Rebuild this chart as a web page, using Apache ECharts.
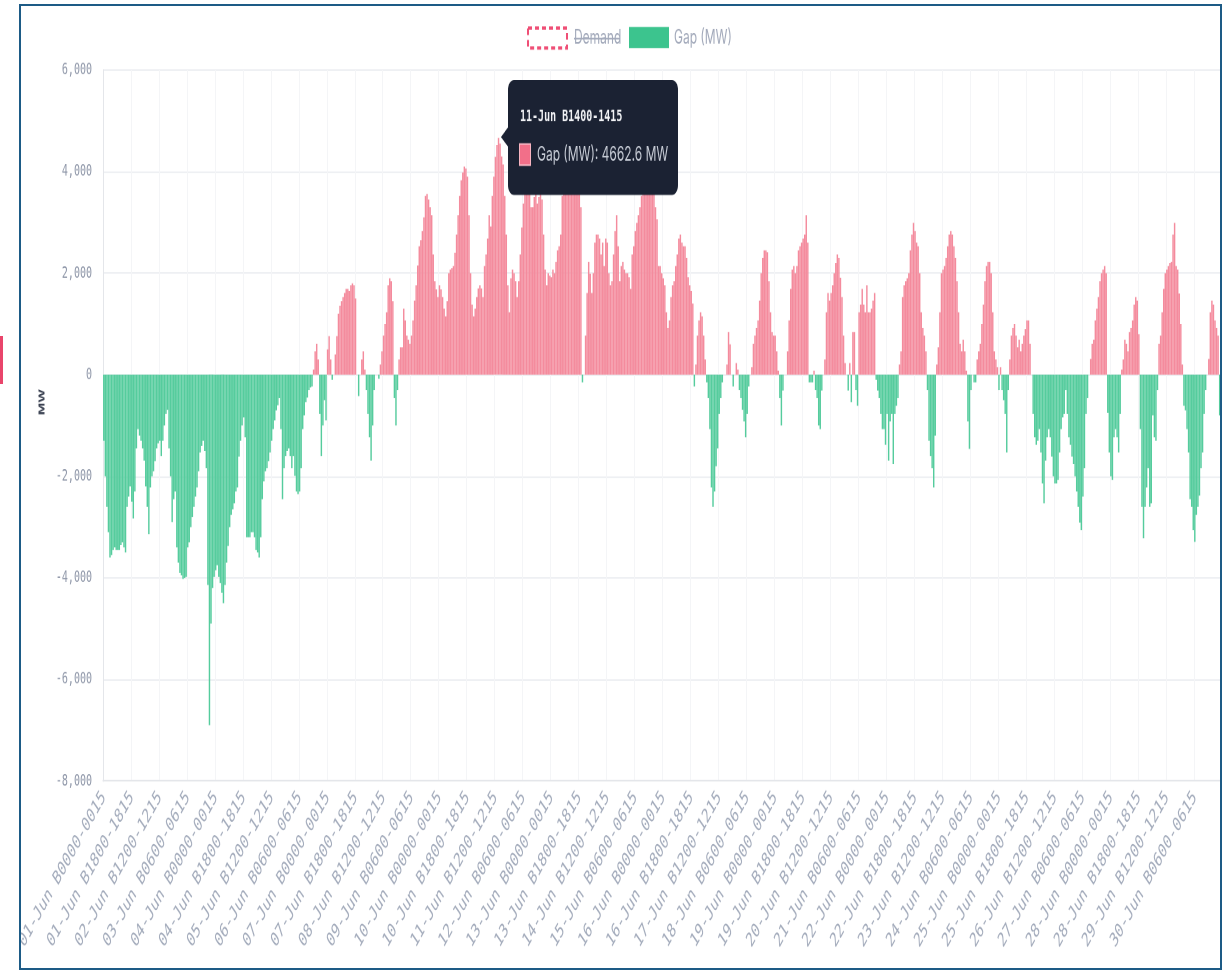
<!DOCTYPE html>
<html>
<head>
<meta charset="utf-8">
<script src="https://cdn.jsdelivr.net/npm/echarts@6/dist/echarts.min.js"></script>
<style>
  html, body { margin: 0; padding: 0; background: #fff; }
  body { width: 1222px; height: 971px; position: relative; overflow: hidden; }
  /* the reference screenshot is stretched vertically, so the chart is drawn short and scaled up */
  #chart { position: absolute; left: 0; top: 0; width: 1222px; height: 589px; transform: scaleY(1.6486); transform-origin: 0 0; }
  #frame { position: absolute; left: 19px; top: 4px; width: 1199px; height: 962px; border: 2px solid #1d5b86; pointer-events: none; }
  #edge { position: absolute; left: 0; top: 336px; width: 3px; height: 48px; background: #e9456b; }
</style>
</head>
<body>
<div id="chart"></div>
<div id="edge"></div>
<div id="frame"></div>
<script>
// hourly gap values (MW), one array per day of June
const jun01 = [-1300,-2000,-2600,-3100,-3600,-3550,-3450,-3400,-3450,-3450,-3450,-3350,-3300,-3400,-3500,-2600,-2400,-2200,-2500,-2830,-2300,-1450,-1070,-1200];
const jun02 = [-1300,-1450,-1690,-2200,-2600,-3140,-2220,-2000,-1900,-1700,-1450,-1350,-1300,-1600,-1300,-1000,-770,-690,-1450,-2000,-2900,-2450,-2300,-3400];
const jun03 = [-3700,-3900,-3950,-4020,-4000,-3980,-3400,-3300,-3000,-2800,-2600,-2400,-2220,-1900,-1530,-1400,-1300,-1500,-1840,-4140,-6900,-4900,-4200,-3980];
const jun04 = [-3850,-3750,-3980,-4100,-4290,-4500,-4140,-3700,-3370,-3000,-2760,-2650,-2530,-2300,-2220,-1610,-1300,-1000,-840,-1230,-3200,-3200,-3200,-3100];
const jun05 = [-3100,-3200,-3450,-3500,-3600,-3200,-2450,-2100,-1900,-1840,-1700,-1530,-1300,-1070,-900,-700,-600,-460,-1070,-2450,-1840,-1600,-1500,-1450];
const jun06 = [-1600,-1840,-1600,-1990,-2300,-2350,-2300,-1840,-1070,-800,-540,-450,-300,-250,-230,100,460,610,300,-770,-1600,-1000,-500,-900];
const jun07 = [500,760,300,-100,0,400,760,1200,1360,1450,1530,1610,1690,1690,1650,1760,1800,1760,1500,0,-420,0,300,460];
const jun08 = [100,-300,-770,-1230,-1690,-1000,-300,0,0,-80,200,460,770,1000,1230,1760,1900,1840,1450,-460,-1000,-300,300,540];
const jun09 = [540,1300,1070,770,690,610,770,1070,1460,1760,2150,2530,2650,2830,3100,3520,3560,3450,3300,3140,2370,1840,1680,1530];
const jun10 = [1760,1680,1530,1300,1150,1450,2000,2070,2100,2140,2400,2760,3140,3520,3830,3980,4100,4060,3900,3140,2000,1380,1150,1300];
const jun11 = [1530,1700,1760,1700,1530,2140,2370,2680,3140,2920,3520,3900,4290,4520,4662.6,4550,4300,4140,3520,2760,1760,1230,1900,2070];
const jun12 = [2000,1840,1530,1840,2370,2900,3370,3680,3800,4000,3900,3300,3300,3500,3600,3370,3500,3600,3450,2760,2070,1760,2000,1950];
const jun13 = [1920,2070,2000,2220,2450,2530,2760,3520,3800,4000,4100,4000,3900,3800,3900,4000,3900,3800,3700,3300,-150,0,770,1610];
const jun14 = [2220,1990,1610,2000,2600,2760,2760,2680,2370,2600,2140,2680,2600,2000,1760,1840,2370,2830,3140,2530,1840,2140,2220,2070];
const jun15 = [2000,2000,1920,1690,2370,2530,2830,2990,3140,3300,3520,3700,3900,4000,3900,3800,3900,3800,3600,3300,3060,2140,2140,2000];
const jun16 = [1900,1760,1230,920,1070,1530,1760,1840,2140,2370,2680,2760,2600,2530,2530,2300,1920,1760,1650,1400,-230,200,770,1070];
const jun17 = [1230,1150,770,300,-150,-460,-1070,-2220,-2600,-2300,-1800,-1450,-770,-460,-150,0,0,200,840,600,0,-230,0,230];
const jun18 = [100,-300,-460,-690,-920,-1230,-770,-230,0,150,610,770,920,1070,1460,2000,2300,2450,2450,2410,1840,1230,840,770];
const jun19 = [770,460,80,-460,-1000,-310,0,0,460,1070,1690,2070,2140,2000,2140,2450,2530,2600,2680,2760,3140,2600,-150,-150];
const jun20 = [-150,80,-300,-460,-1000,-1070,-310,0,300,1230,1610,1460,1610,1760,2000,2200,2370,2300,1910,1530,770,230,0,-310];
const jun21 = [230,-540,840,840,-300,-610,1230,1380,1690,1380,1230,1760,1230,1230,1300,1460,1610,-100,-310,-460,-770,-1070,-1070,-1380];
const jun22 = [-770,-1690,-920,-770,-1760,-770,-610,-460,200,460,1530,1760,1840,1900,2000,2450,2760,2990,2830,2600,2530,2000,1230,920];
const jun23 = [770,460,-300,-1300,-1600,-1840,-2220,-1200,200,540,1230,2000,2070,2140,2300,2530,2760,2830,2760,2530,2300,1840,1230,610];
const jun24 = [460,690,460,80,-920,-1460,-300,0,-150,-150,300,460,610,1000,1380,1840,2140,2220,2220,2000,1230,460,300,150];
const jun25 = [-300,150,-300,-500,-770,-1530,-300,300,770,920,1000,770,540,690,460,610,770,900,1070,1070,610,0,-770,-1230];
const jun26 = [-1380,-1300,-1070,-1530,-2140,-2530,-1690,-1230,-1070,-1230,-1610,-2000,-2140,-2140,-2070,-1530,-1070,-840,-770,-300,-770,-1230,-1380,-1610];
const jun27 = [-1760,-2000,-2300,-2600,-2910,-3060,-2400,-1840,-770,-460,0,310,610,690,1070,1300,1530,1840,2000,2070,2140,2000,-750,-1530];
const jun28 = [-2000,-2070,-1230,-1070,-1230,-1530,-770,100,300,690,610,460,840,920,1070,1380,1530,1460,800,-1070,-2600,-3220,-2600,-2220];
const jun29 = [-1840,-2600,-2530,-800,-1230,-1300,-300,610,770,1230,1690,2000,2070,2140,2200,2220,2760,2990,2140,2070,1600,1000,200,-610];
const jun30 = [-700,-1070,-1530,-2450,-2600,-3060,-3290,-2760,-2600,-2380,-1840,-1530,-770,-300,0,310,1230,1460,1380,1070,920,770,-800,-1080];

const days = [jun01, jun02, jun03, jun04, jun05, jun06, jun07, jun08, jun09, jun10,
	jun11, jun12, jun13, jun14, jun15, jun16, jun17, jun18, jun19, jun20,
	jun21, jun22, jun23, jun24, jun25, jun26, jun27, jun28, jun29, jun30];

const yTicks = { min: -8000, max: 6000, step: 2000 };
const legendNames = ["Demand", "Gap (MW)"];
const hoverLabel = "11-Jun B1400-1415";

// category labels: "DD-Jun Bhh00-hh15"
const categories = [];
days.forEach((d, i) => {
	const dd = String(i + 1).padStart(2, "0");
	for (let h = 0; h < 24; h++) {
		const hh = String(h).padStart(2, "0");
		categories.push(dd + "-Jun B" + hh + "00-" + hh + "15");
	}
});
const gap = [].concat(...days);

const SY = 971 / 589;
const Y = (v) => v / SY; // screenshot y -> chart y

const RED = "#f48b9d";
const GREEN = "#55cc9d";
const MONO = "'DejaVu Sans Mono', monospace";
const SANS = "Inter, 'Noto Sans', sans-serif";

const hoverValue = gap[categories.indexOf(hoverLabel)];

var chartDom = document.getElementById("chart");
var myChart = echarts.init(chartDom, null, { renderer: "canvas", devicePixelRatio: 2 });

var option = {
	animation: false,
	backgroundColor: "#fff",
	grid: {
		left: 103,
		right: 0,
		top: Y(70),
		bottom: 589 - Y(781),
		outerBoundsMode: "none",
	},
	xAxis: {
		type: "category",
		data: categories,
		boundaryGap: true,
		axisLine: { onZero: false, lineStyle: { color: "#e4e6ea", width: 1 } },
		axisTick: { show: false },
		axisLabel: {
			interval: 17,
			rotate: 48,
			margin: 8,
			fontFamily: MONO,
			fontSize: 12,
			color: "#a4acbc",
		},
		splitLine: { show: true, interval: 17, lineStyle: { color: "#f4f5f7" } },
	},
	yAxis: {
		type: "value",
		min: yTicks.min,
		max: yTicks.max,
		interval: yTicks.step,
		axisLine: { show: true, lineStyle: { color: "#e4e6ea" } },
		axisTick: { show: false },
		axisLabel: {
			margin: 11,
			fontFamily: MONO,
			fontSize: 10,
			color: "#8e96a8",
			formatter: (v) => v.toLocaleString("en-US"),
		},
		splitLine: { lineStyle: { color: "#eef0f3" } },
	},
	series: [
		{
			name: legendNames[1],
			type: "bar",
			data: gap,
			barCategoryGap: "8%",
			silent: true,
			itemStyle: {
				color: (p) => (p.value >= 0 ? RED : GREEN),
			},
		},
	],
	graphic: [
		// legend
		{
			type: "rect", z: 100,
			shape: { x: 528, y: Y(28), width: 39, height: Y(48) - Y(28) },
			style: { fill: "#fff", stroke: "#ef4f76", lineWidth: 2, lineDash: [4, 3] },
		},
		{
			type: "text", z: 100, x: 574, y: Y(38),
			style: { text: legendNames[0], font: "12px " + SANS, fill: "#a3aabb", verticalAlign: "middle" },
		},
		{
			type: "line", z: 100,
			shape: { x1: 574, y1: Y(38.5), x2: 620, y2: Y(38.5) },
			style: { stroke: "#a3aabb", lineWidth: 1 },
		},
		{
			type: "rect", z: 100,
			shape: { x: 629, y: Y(27), width: 40, height: Y(48) - Y(27) },
			style: { fill: "#3cc48e" },
		},
		{
			type: "text", z: 100, x: 674, y: Y(38),
			style: { text: legendNames[1], font: "12px " + SANS, fill: "#a3aabb", verticalAlign: "middle" },
		},
		// y axis title
		{
			type: "text", z: 100, x: 42, y: Y(402), rotation: Math.PI / 2,
			style: { text: "MW", font: "bold 8px " + SANS, fill: "#3b4252", align: "center", verticalAlign: "middle" },
		},
		// hover tooltip
		{
			type: "rect", z: 200,
			shape: { x: 508, y: Y(80), width: 170, height: Y(195) - Y(80), r: 6 },
			style: { fill: "#1b2233" },
		},
		{
			type: "polygon", z: 200,
			shape: { points: [[509, Y(126)], [501, Y(137)], [509, Y(148)]] },
			style: { fill: "#1b2233" },
		},
		{
			type: "text", z: 201, x: 520, y: Y(117),
			style: { text: hoverLabel, font: "bold 10px " + MONO, fill: "#f2f3f6", verticalAlign: "middle" },
		},
		{
			type: "rect", z: 201,
			shape: { x: 519.5, y: Y(144), width: 11, height: Y(165) - Y(144) },
			style: { fill: "#f26f89", stroke: "#f8b4c1", lineWidth: 1 },
		},
		{
			type: "text", z: 201, x: 537, y: Y(155),
			style: { text: legendNames[1] + ": " + hoverValue + " MW", font: "12px " + SANS, fill: "#c7ccd6", verticalAlign: "middle" },
		},
	],
};

myChart.setOption(option);
</script>
</body>
</html>
